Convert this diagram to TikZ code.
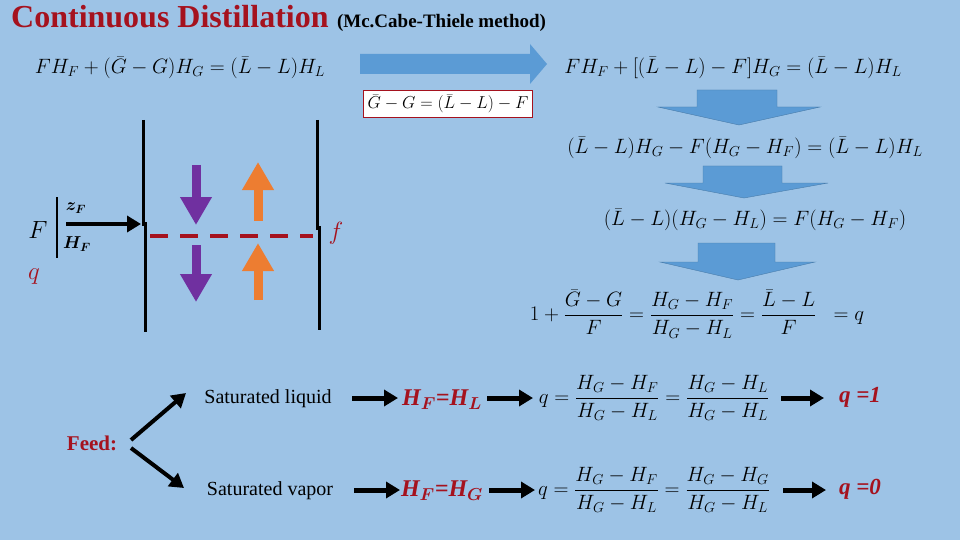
\documentclass[tikz,border=0pt]{standalone}
\usepackage{fontspec}
\setmainfont{Liberation Serif}
\usepackage{amsmath}
\usetikzlibrary{arrows.meta,calc}
\definecolor{bg}{HTML}{9DC3E6}
\definecolor{dred}{HTML}{A5121E}
\definecolor{barrow}{HTML}{5B9BD5}
\definecolor{purp}{HTML}{7030A0}
\definecolor{orng}{HTML}{ED7D31}
\tikzset{
 eq/.style={inner sep=0pt,font=\fontsize{20}{24}\selectfont},
 blk/.style={-{Triangle[length=14pt,width=16pt]},line width=5pt,black},
 bigdown/.style={fill=barrow,draw=barrow!80!black,line width=0.4pt},
 colline/.style={line width=3pt,black},
 lbl/.style={inner sep=0pt,font=\fontsize{20}{24}\selectfont},
 redeq/.style={inner sep=0pt,text=dred,font=\fontsize{24}{28}\selectfont\bfseries\itshape},
}
\begin{document}
\begin{tikzpicture}[x=1pt,y=-1pt]
\fill[bg] (0,0) rectangle (960,540);
\useasboundingbox (0,0) rectangle (960,540);
% title
\node[anchor=base west,inner sep=0pt,text=dred,font=\fontsize{32}{34}\selectfont\bfseries] (title) at (11,28) {Continuous Distillation};
\node[anchor=base west,inner sep=0pt,font=\fontsize{19}{22}\selectfont\bfseries] (sub) at ($(title.base east)+(8,0)$) {(Mc.Cabe-Thiele method)};
% equations
\node[eq] (e1) at (180,68) {$FH_F+(\bar G-G)H_G=(\bar L-L)H_L$};
\node[eq,font=\fontsize{22}{24}\selectfont] (e2) at (733,68) {$FH_F+[(\bar L-L)-F]H_G=(\bar L-L)H_L$};
\node[eq,draw=dred,fill=white,inner sep=4pt,line width=0.8pt,font=\fontsize{17}{20}\selectfont] (box) at (448,104) {$\bar G-G=(\bar L-L)-F$};
\node[eq,font=\fontsize{22}{24}\selectfont] (e3) at (745,148) {$(\bar L-L)H_G-F(H_G-H_F)=(\bar L-L)H_L$};
\node[eq,font=\fontsize{22}{24}\selectfont] (e4) at (755,220) {$(\bar L-L)(H_G-H_L)=F(H_G-H_F)$};
\node[eq,font=\fontsize{20}{24}\selectfont] (e5) at (697,314) {$1+\dfrac{\bar G-G}{F}=\dfrac{H_G-H_F}{H_G-H_L}=\dfrac{\bar L-L}{F}\;\;=q$};
% big arrows
\fill[barrow] (360,54)--(530,54)--(530,44)--(547,64)--(530,84)--(530,74)--(360,74)--cycle;
\draw[bigdown] (697,90)--(777,90)--(777,107)--(820,107)--(739,125)--(658,107)--(697,107)--cycle;
\draw[bigdown] (703,166)--(782,166)--(782,183)--(828,183)--(744,198)--(665,183)--(703,183)--cycle;
\draw[bigdown] (698,243)--(775,243)--(775,262)--(815,262)--(738,280)--(660,262)--(698,262)--cycle;
% column
\draw[colline] (143,120)--(143,226);
\draw[colline] (145,222)--(145,332);
\draw[colline] (317,120)--(317,230);
\draw[colline] (319,226)--(319,330);
\draw[dred,line width=4pt,dash pattern=on 18pt off 12pt] (150,236)--(313,236);
\node[inner sep=0pt,text=dred,font=\fontsize{24}{26}\selectfont\itshape] (f) at (336,233) {$f$};
\draw[purp,-{Triangle[length=28pt,width=30pt]},line width=9pt] (196,165)--(196,225);
\draw[purp,-{Triangle[length=28pt,width=30pt]},line width=9pt] (196,245)--(196,302);
\draw[orng,-{Triangle[length=28pt,width=30pt]},line width=9pt] (258,221)--(258,162);
\draw[orng,-{Triangle[length=28pt,width=30pt]},line width=9pt] (258,300)--(258,243);
% feed
\node[inner sep=0pt,font=\fontsize{24}{26}\selectfont\itshape] (F) at (38,230) {$F$};
\draw[line width=1.5pt] (57,197)--(57,258);
\node[inner sep=0pt,font=\fontsize{17}{18}\selectfont] (zf) at (76,208) {$\boldsymbol{z_F}$};
\node[inner sep=0pt,font=\fontsize{17}{18}\selectfont] (hf) at (77,244) {$\boldsymbol{H_F}$};
\coordinate (fs) at (66,224);
\coordinate (fe) at (141,224);
\draw[blk,line width=4pt] (fs)--(fe);
\node[inner sep=0pt,text=dred,font=\fontsize{28}{30}\selectfont\itshape] (q) at (34,277) {$q$};
% feed cases
\node[inner sep=0pt,text=dred,font=\fontsize{21}{22}\selectfont\bfseries] (feed) at (92,443) {Feed:};
\node[lbl] (sl) at (268,399) {Saturated liquid};
\node[lbl] (sv) at (270,491) {Saturated vapor};
\draw[blk,line width=4pt] (131,440)--(186,393);
\draw[blk,line width=4pt] (131,448)--(184,488);
\node[redeq] (hl) at (442,400) {\textit{H}$_{\boldsymbol{F}}$=\textit{H}$_{\boldsymbol{L}}$};
\node[redeq] (hg) at (442,491) {\textit{H}$_{\boldsymbol{F}}$=\textit{H}$_{\boldsymbol{G}}$};
\coordinate (a1s) at (352,398); \coordinate (a1e) at (398,398);
\coordinate (a2s) at (354,490); \coordinate (a2e) at (400,490);
\coordinate (b1s) at (487,398); \coordinate (b1e) at (533,398);
\coordinate (b2s) at (489,490); \coordinate (b2e) at (535,490);
\coordinate (c1s) at (781,398); \coordinate (c1e) at (824,398);
\coordinate (c2s) at (783,490); \coordinate (c2e) at (826,490);
\draw[blk] (a1s)--(a1e); \draw[blk] (a2s)--(a2e);
\draw[blk] (b1s)--(b1e); \draw[blk] (b2s)--(b2e);
\draw[blk] (c1s)--(c1e); \draw[blk] (c2s)--(c2e);
\node[eq,font=\fontsize{21}{24}\selectfont] (q1) at (654,398) {$q=\dfrac{H_G-H_F}{H_G-H_L}=\dfrac{H_G-H_L}{H_G-H_L}$};
\node[eq,font=\fontsize{21}{24}\selectfont] (q0) at (654,490) {$q=\dfrac{H_G-H_F}{H_G-H_L}=\dfrac{H_G-H_G}{H_G-H_L}$};
\node[redeq,font=\fontsize{23}{24}\selectfont\bfseries\itshape] (r1) at (860,397) {q =1};
\node[redeq,font=\fontsize{23}{24}\selectfont\bfseries\itshape] (r0) at (860,489) {q =0};
\end{tikzpicture}
\end{document}
